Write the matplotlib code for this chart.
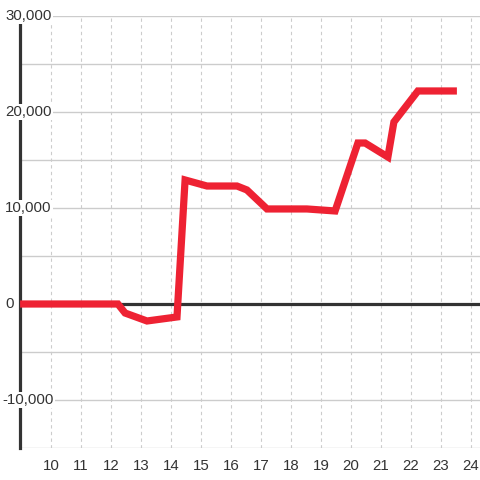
import matplotlib
matplotlib.use("Agg")
import matplotlib.pyplot as plt

# data
hours = [8.97, 12.23, 12.47, 13.2, 14.2, 14.47, 15.2, 16.2, 16.53, 17.2,
         18.53, 19.47, 20.23, 20.47, 21.23, 21.43, 22.23, 23.53]
values = [0, 0, -940, -1770, -1350, 12920, 12290, 12290, 11880, 9900,
          9900, 9690, 16770, 16770, 15310, 18960, 22190, 22190]
x_ticks = list(range(10, 25))
y_ticks = [30000, 20000, 10000, 0, -10000]
y_tick_labels = ["30,000", "20,000", "10,000", "0", "-10,000"]

plt.rcParams['font.family'] = ['Liberation Sans', 'DejaVu Sans']

fig = plt.figure(figsize=(4.8, 4.8), dpi=100)
ax = fig.add_axes([20/480, 32/480, 460/480, 432/480])
ax.set_xlim(8.967, 24.3)
ax.set_ylim(-15000, 30000)

# grid
for yv in range(-15000, 30001, 5000):
    ax.axhline(yv, color='#cccccc', lw=1.0, zorder=1)
for xv in x_ticks:
    ax.axvline(xv, color='#cccccc', lw=0.8, ls=(0, (3, 3)), zorder=1)

ax.axhline(0, color='#333333', lw=2.3, zorder=2)

ax.plot(hours, values, color='#ee2233', lw=5.2, solid_joinstyle='miter',
        solid_capstyle='butt', zorder=3)

for s in ['top', 'right', 'bottom']:
    ax.spines[s].set_visible(False)
ax.spines['left'].set_color('#333333')
ax.spines['left'].set_linewidth(2.3)
ax.spines['left'].set_bounds(-15000, 29170)
ax.spines['left'].set_zorder(2)

ax.set_xticks(x_ticks)
ax.set_xticklabels([str(v) for v in x_ticks])
ax.tick_params(axis='x', length=0, pad=8, labelsize=10.8, colors='#333333')
ax.set_yticks([])

for yv, lab in zip(y_ticks, y_tick_labels):
    ax.text(5/480 if lab != "-10,000" else 2/480, yv, lab,
            transform=ax.get_yaxis_transform().__class__(fig.transFigure, ax.transData),
            ha='left', va='center', fontsize=10.8, color='#333333', zorder=5,
            bbox=dict(facecolor='white', edgecolor='none', pad=1.0), clip_on=False)

fig.savefig('out.png', dpi=100, facecolor='white')
